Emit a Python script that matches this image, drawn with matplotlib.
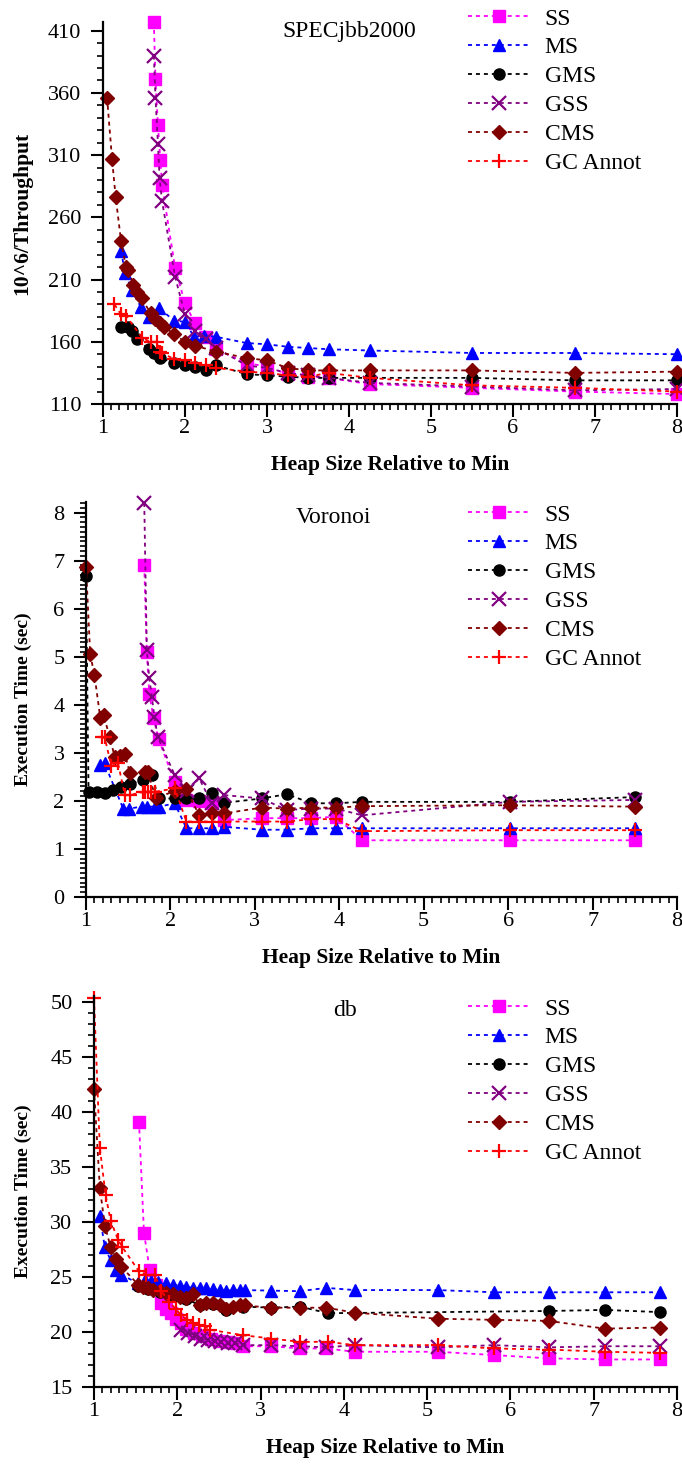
import numpy as np
import matplotlib.pyplot as plt
from matplotlib.ticker import MultipleLocator

plt.rcParams['font.family'] = ['Liberation Serif', 'DejaVu Serif']

# ---------------------------------------------------------------------------
# data (x = heap size relative to min)
# ---------------------------------------------------------------------------
labels = ['SS', 'MS', 'GMS', 'GSS', 'CMS', 'GC Annot']
colors = ['#ff00ff', '#0000ff', '#000000', '#800080', '#800000', '#ff0000']
markers = ['s', '^', 'o', 'x', 'D', '+']

# --- SPECjbb2000 (10^6/throughput) ---
jbb_ss_x = [1.62, 1.64, 1.67, 1.70, 1.72, 1.88, 2.0, 2.12, 2.25, 2.38, 2.75, 3.0, 3.25, 3.5, 3.75, 4.25, 5.5, 6.75, 8.0]
jbb_ss_y = [417, 371, 334, 306, 286, 219, 191, 175, 164, 154, 143, 140, 134, 132, 131, 126, 123, 120, 118]
jbb_ms_x = [1.22, 1.27, 1.35, 1.46, 1.56, 1.68, 1.87, 2.0, 2.11, 2.23, 2.38, 2.75, 3.0, 3.25, 3.5, 3.75, 4.25, 5.5, 6.75, 8.0]
jbb_ms_y = [233, 215, 202, 188, 180, 187, 177, 176, 164, 165, 164, 159, 158, 156, 155, 154, 153, 151, 151, 150]
jbb_gms_x = [1.22, 1.30, 1.35, 1.42, 1.56, 1.62, 1.69, 1.87, 2.0, 2.12, 2.25, 2.38, 2.75, 3.0, 3.25, 3.5, 3.75, 4.25, 5.5, 6.75, 8.0]
jbb_gms_y = [172, 172, 169, 162, 154, 151, 147, 143, 141, 140, 137, 141, 134, 133, 132, 131, 131, 131, 131, 129, 129]
jbb_gss_x = [1.62, 1.64, 1.67, 1.69, 1.72, 1.88, 2.0, 2.12, 2.25, 2.38, 2.75, 3.0, 3.25, 3.5, 3.75, 4.25, 5.5, 6.75, 8.0]
jbb_gss_y = [390, 356, 319, 292, 273, 212, 182, 169, 162, 155, 141, 139, 135, 133, 131, 127, 124, 121, 122]
jbb_cms_x = [1.05, 1.11, 1.155, 1.22, 1.28, 1.31, 1.37, 1.42, 1.47, 1.58, 1.64, 1.70, 1.745, 1.87, 2.0, 2.12,
             2.38, 2.75, 3.0, 3.25, 3.5, 3.75, 4.25, 5.5, 6.75, 8.0]
jbb_cms_y = [356, 307, 276, 241, 220, 218, 206, 200, 195, 183, 178, 175, 172, 166, 160, 157,
             152, 147, 145, 139, 137, 137, 137, 137, 135, 136]
jbb_gca_x = [1.14, 1.22, 1.28, 1.48, 1.58, 1.66, 1.70, 1.72, 1.87, 2.0, 2.12, 2.25, 2.38, 2.75, 3.0, 3.25,
             3.5, 3.75, 4.25, 5.5, 6.75, 8.0]
jbb_gca_y = [190, 182, 181, 163, 160, 160, 152, 151, 146, 145, 143, 141, 139, 136, 135, 133,
             132, 135, 131, 125, 123, 120]

# --- Voronoi (execution time, sec) ---
vor_ss_x = [1.69, 1.72, 1.75, 1.80, 1.86, 2.05, 2.19, 2.34, 2.49, 2.64, 3.08, 3.38, 3.67, 3.96, 4.27, 6.02, 7.5]
vor_ss_y = [6.9, 5.1, 4.22, 3.72, 3.28, 2.40, 2.02, 2.0, 1.95, 1.60, 1.64, 1.64, 1.64, 1.67, 1.18, 1.18, 1.18]
vor_ms_x = [1.17, 1.22, 1.44, 1.51, 1.66, 1.72, 1.82, 1.87, 2.05, 2.19, 2.34, 2.49, 2.64, 3.08, 3.38, 3.67, 3.96, 4.27, 6.02, 7.5]
vor_ms_y = [2.74, 2.78, 1.84, 1.84, 1.88, 1.88, 1.88, 1.88, 1.95, 1.43, 1.43, 1.43, 1.46, 1.40, 1.40, 1.43, 1.43, 1.43, 1.43, 1.43]
vor_gms_x = [1.0, 1.03, 1.13, 1.22, 1.32, 1.42, 1.52, 1.68, 1.78, 1.86, 2.05, 2.19, 2.34, 2.49, 2.64, 3.08, 3.38, 3.67, 3.96, 4.27, 6.02, 7.5]
vor_gms_y = [6.69, 2.19, 2.19, 2.16, 2.22, 2.29, 2.36, 2.43, 2.54, 2.05, 2.05, 2.05, 2.05, 2.16, 1.96, 2.05, 2.14, 1.95, 1.95, 1.98, 1.98, 2.08]
vor_gss_x = [1.69, 1.72, 1.75, 1.78, 1.81, 1.85, 2.05, 2.2, 2.34, 2.49, 2.64, 3.08, 3.38, 3.67, 3.96, 4.27, 6.02, 7.5]
vor_gss_y = [8.2, 5.15, 4.55, 4.16, 3.75, 3.33, 2.54, 2.2, 2.47, 1.95, 2.12, 2.05, 1.81, 1.84, 1.84, 1.70, 1.98, 2.02]
vor_cms_x = [1.0, 1.05, 1.10, 1.17, 1.21, 1.28, 1.34, 1.40, 1.46, 1.52, 1.70, 1.73, 1.83, 2.05, 2.19, 2.34, 2.49, 2.64,
             3.08, 3.38, 3.67, 3.96, 4.27, 6.02, 7.5]
vor_cms_y = [6.87, 5.05, 4.62, 3.72, 3.78, 3.33, 2.92, 2.93, 2.97, 2.58, 2.60, 2.60, 2.05, 2.21, 2.24, 1.70, 1.75, 1.74,
             1.86, 1.84, 1.86, 1.86, 1.89, 1.91, 1.88]
vor_gca_x = [1.19, 1.22, 1.30, 1.38, 1.46, 1.52, 1.68, 1.70, 1.73, 1.77, 1.82, 2.05, 2.19, 2.34, 2.49, 2.64,
             3.08, 3.38, 3.67, 3.96, 4.27, 6.02, 7.5]
vor_gca_y = [3.33, 3.33, 2.73, 2.78, 2.12, 2.12, 2.19, 2.19, 2.19, 2.19, 2.19, 2.26, 1.57, 1.57, 1.57, 1.57,
             1.57, 1.57, 1.62, 1.62, 1.37, 1.39, 1.39]

# --- db (execution time, sec) ---
db_ss_x = [1.54, 1.60, 1.67, 1.74, 1.81, 1.87, 1.93, 1.99, 2.05, 2.11, 2.2, 2.3, 2.4, 2.5, 2.6, 2.7, 2.79,
           3.13, 3.47, 3.79, 4.13, 5.13, 5.80, 6.46, 7.13, 7.79]
db_ss_y = [39.1, 29.0, 25.6, 24.3, 22.6, 22.1, 21.7, 21.2, 20.8, 20.3, 19.9, 19.6, 19.4, 19.2, 19.1, 19.0, 18.7,
           18.7, 18.5, 18.5, 18.2, 18.2, 17.9, 17.6, 17.5, 17.5]
db_ms_x = [1.07, 1.13, 1.20, 1.26, 1.33, 1.53, 1.61, 1.69, 1.77, 1.87, 1.95, 2.03, 2.11, 2.19, 2.27, 2.35, 2.43,
           2.51, 2.59, 2.67, 2.75, 2.81, 3.13, 3.47, 3.79, 4.13, 5.13, 5.80, 6.46, 7.13, 7.79]
db_ms_y = [30.5, 27.7, 26.5, 25.6, 25.2, 24.4, 24.7, 24.6, 24.5, 24.4, 24.3, 24.2, 24.1, 24.0, 24.0, 24.0, 23.9,
           23.8, 23.75, 23.8, 23.8, 23.8, 23.75, 23.7, 24.0, 23.8, 23.8, 23.6, 23.6, 23.6, 23.6]
db_gms_x = [1.53, 1.65, 1.79, 1.95, 2.11, 2.27, 2.43, 2.59, 2.79, 3.13, 3.47, 3.81, 6.46, 7.13, 7.79]
db_gms_y = [24.2, 23.9, 23.6, 23.3, 23.0, 22.4, 22.5, 22.0, 22.3, 22.2, 22.3, 21.7, 21.9, 22.0, 21.8]
db_gss_x = [2.05, 2.13, 2.21, 2.29, 2.37, 2.45, 2.53, 2.61, 2.69, 2.79, 3.13, 3.47, 3.79, 4.13, 5.13, 5.80, 6.46, 7.13, 7.79]
db_gss_y = [20.2, 19.9, 19.6, 19.4, 19.3, 19.2, 19.1, 19.0, 19.0, 18.8, 18.8, 18.7, 18.6, 18.8, 18.6, 18.8, 18.6, 18.7, 18.7]
db_cms_x = [1.0, 1.07, 1.13, 1.20, 1.27, 1.33, 1.53, 1.59, 1.65, 1.71, 1.79, 1.87, 1.95, 2.03, 2.11, 2.19, 2.27,
            2.35, 2.43, 2.51, 2.59, 2.67, 2.75, 2.81, 3.13, 3.47, 3.79, 4.13, 5.13, 5.80, 6.46, 7.13, 7.79]
db_cms_y = [42.1, 33.1, 29.65, 27.7, 26.6, 25.9, 24.3, 24.1, 24.0, 23.8, 23.7, 23.5, 23.4, 23.2, 23.1, 23.4, 22.45,
            22.6, 22.6, 22.4, 22.1, 22.3, 22.4, 22.4, 22.2, 22.2, 22.2, 21.75, 21.2, 21.1, 21.0, 20.3, 20.4]
db_gca_x = [1.0, 1.07, 1.14, 1.20, 1.29, 1.34, 1.54, 1.63, 1.73, 1.81, 1.90, 1.98, 2.05, 2.12, 2.19, 2.26, 2.33,
            2.39, 2.79, 3.13, 3.47, 3.81, 4.13, 5.13, 5.80, 6.46, 7.13, 7.79]
db_gca_y = [50.3, 36.7, 32.4, 30.1, 28.35, 27.7, 25.5, 25.2, 25.2, 23.7, 22.75, 22.1, 21.5, 21.1, 20.8, 20.6, 20.5,
            20.2, 19.7, 19.4, 19.1, 19.1, 18.8, 18.8, 18.5, 18.4, 18.2, 18.1]

# layout in reference pixels: [left, top, right, bottom] of each plot area
panels = [
    dict(title='SPECjbb2000', ylabel='10^6/Throughput', ylabel_size=15.5,
         series=[(jbb_ss_x, jbb_ss_y), (jbb_ms_x, jbb_ms_y), (jbb_gms_x, jbb_gms_y),
                 (jbb_gss_x, jbb_gss_y), (jbb_cms_x, jbb_cms_y), (jbb_gca_x, jbb_gca_y)],
         rect=[103, 22, 677, 404], ylim=(110, 417), minor=10, yticks=np.arange(110, 411, 50),
         title_xy=(0.429, 0.974), leg_top=8),
    dict(title='Voronoi', ylabel='Execution Time (sec)', ylabel_size=14,
         series=[(vor_ss_x, vor_ss_y), (vor_ms_x, vor_ms_y), (vor_gms_x, vor_gms_y),
                 (vor_gss_x, vor_gss_y), (vor_cms_x, vor_cms_y), (vor_gca_x, vor_gca_y)],
         rect=[86, 502, 677, 897], ylim=(0, 8.22), minor=0.1, yticks=np.arange(0, 9, 1),
         title_xy=(0.418, 0.962), leg_top=504),
    dict(title='db', ylabel='Execution Time (sec)', ylabel_size=14,
         series=[(db_ss_x, db_ss_y), (db_ms_x, db_ms_y), (db_gms_x, db_gms_y),
                 (db_gss_x, db_gss_y), (db_cms_x, db_cms_y), (db_gca_x, db_gca_y)],
         rect=[94, 996, 677, 1387], ylim=(15, 50.5), minor=1, yticks=np.arange(15, 51, 5),
         title_xy=(0.43, 0.964), leg_top=998),
]

W, H = 682, 1465
fig = plt.figure(figsize=(W / 100, H / 100), dpi=100)

for p in panels:
    x0, y0, x1, y1 = p['rect']
    ax = fig.add_axes([x0 / W, 1 - y1 / H, (x1 - x0) / W, (y1 - y0) / H])
    for (xs, ys), lab, c, m in zip(p['series'], labels, colors, markers):
        ms = 8
        mew = 1.0
        if m == 'D':
            ms = 7
        if m in ('x', '+'):
            ms = 10
            mew = 1.6
        ax.plot(xs, ys, linestyle=(0, (2.2, 2.2)), linewidth=1.3, color=c, marker=m,
                markersize=ms, markeredgewidth=mew, label=lab, clip_on=False)

    ax.set_xlim(1, 8)
    ax.set_ylim(*p['ylim'])
    ax.set_xticks(range(1, 9))
    ax.set_yticks(p['yticks'])
    ax.xaxis.set_minor_locator(MultipleLocator(0.1))
    ax.yaxis.set_minor_locator(MultipleLocator(p['minor']))
    ax.tick_params(which='major', direction='out', length=9, width=1.5, labelsize=16)
    ax.tick_params(which='minor', direction='out', length=4.5, width=1.2)
    ax.tick_params(axis='x', which='major', pad=2)
    ax.tick_params(axis='y', which='major', pad=6.5)
    for s in ('top', 'right'):
        ax.spines[s].set_visible(False)
    for s in ('left', 'bottom'):
        ax.spines[s].set_linewidth(1.6)

    ax.set_xlabel('Heap Size Relative to Min', fontsize=15.5, fontweight='bold', labelpad=12)
    ax.set_ylabel(p['ylabel'], fontsize=p['ylabel_size'], fontweight='bold')
    ax.yaxis.set_label_coords((32 - x0) / (x1 - x0), 0.5)
    ax.text(p['title_xy'][0], p['title_xy'][1], p['title'], transform=ax.transAxes,
            ha='center', va='center', fontsize=17)

    ax.legend(loc='upper left', bbox_to_anchor=(468 / W, 1 - p['leg_top'] / H),
              bbox_transform=fig.transFigure, frameon=False, fontsize=17,
              handlelength=2.6, handletextpad=0.65, labelspacing=0.31, borderpad=0,
              borderaxespad=0)

fig.savefig('out.png', dpi=100)
